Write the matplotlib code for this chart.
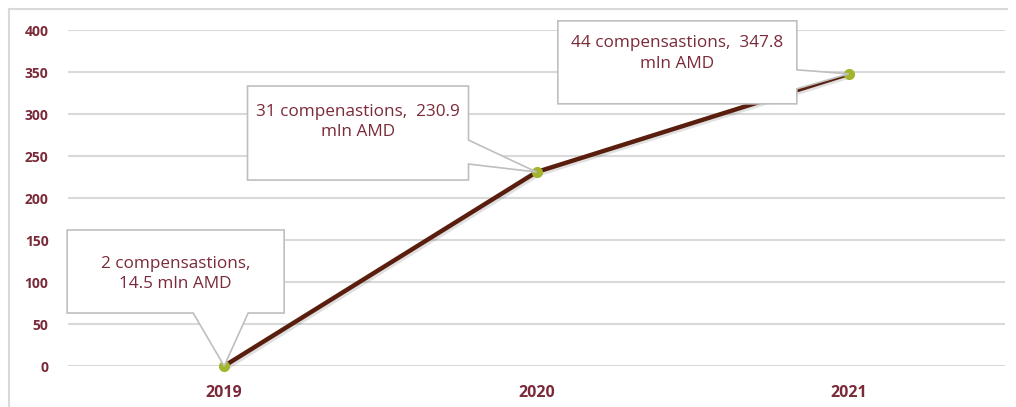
import numpy as np
import matplotlib.pyplot as plt
from matplotlib.patches import Polygon
from matplotlib.transforms import IdentityTransform
import matplotlib.patheffects as pe

plt.rcParams['font.family'] = ['Open Sans', 'DejaVu Sans']

# data
years = ['2019', '2020', '2021']
values = [0, 230.9, 347.8]
labels = ['2 compensastions,\n14.5 mln AMD',
          '31 compenastions,  230.9\nmln AMD',
          '44 compensastions,  347.8\nmln AMD']
yticks = [0, 50, 100, 150, 200, 250, 300, 350, 400]

text_col = '#7A2A38'
line_col = '#5A1E0E'
marker_col = '#A3B52C'
grid_col = '#D9D9D9'

W, H = 1016, 407
fig = plt.figure(figsize=(W / 100, H / 100), dpi=100)
ax = fig.add_axes([68 / W, 1 - 366 / H, (1005 - 68) / W, (366 - 30) / H])

x = np.arange(len(years))
ax.plot(x, values, color=line_col, lw=3.2, zorder=3, clip_on=False,
        path_effects=[pe.SimpleLineShadow(offset=(1.5, -1.5), alpha=0.12), pe.Normal()])
ax.plot(x, values, 'o', color=marker_col, ms=7, zorder=4, clip_on=False)

ax.set_xlim(-0.5, len(years) - 0.5)
ax.set_ylim(0, 400)
ax.set_yticks(yticks)
ax.set_xticks(x)
ax.set_xticklabels(years)
ax.grid(axis='y', color=grid_col, lw=1.5)
ax.set_axisbelow(True)
for s in ax.spines.values():
    s.set_visible(False)
ax.tick_params(axis='both', length=0, colors=text_col)
ax.tick_params(axis='y', pad=14, labelsize=10)
ax.tick_params(axis='x', pad=14, labelsize=11.5)
for t in ax.get_xticklabels() + ax.get_yticklabels():
    t.set_fontweight('bold')

# callout geometry in pixels relative to the point (y measured downward)
# box: (left, right, top, bottom); pointer: two base points on the box edge
boxes = [(-157, 60, -136, -53), (-289, -68, -86, 8), (-291, -52, -53, 30)]
pointers = [[(-31, -53), (24, -53)], [(-68, -32), (-68, -8)], [(-52, -4), (-52, 15)]]
text_dy = [-92, -50, -20]

fig.canvas.draw()
for i in range(len(years)):
    px, py = ax.transData.transform((x[i], values[i]))
    l, r, t, b = boxes[i]
    p1, p2 = pointers[i]
    if i == 0:
        # pointer on the bottom edge
        pts = [(l, t), (r, t), (r, b), (p2[0], b), (0, 0), (p1[0], b), (l, b)]
    else:
        # pointer on the right edge
        pts = [(l, t), (r, t), (r, p1[1]), (0, 0), (r, p2[1]), (r, b), (l, b)]
    verts = [(px + dx, py - dy) for dx, dy in pts]
    poly = Polygon(verts, closed=True, transform=IdentityTransform(),
                   facecolor='white', edgecolor='#BFBFBF', lw=1.2, zorder=5)
    fig.add_artist(poly)
    fig.text((px + (l + r) / 2) / W, (py - text_dy[i]) / H, labels[i],
             ha='center', va='center', color=text_col, fontsize=12.3,
             linespacing=1.4, zorder=6)

# outer chart border
fig.add_artist(plt.Line2D([9 / W, 9 / W], [0, 1 - 9 / H], color='#D9D9D9', lw=1.5))
fig.add_artist(plt.Line2D([9 / W, 1007 / W], [1 - 9 / H, 1 - 9 / H], color='#D9D9D9', lw=1.5))

fig.savefig('out.png', dpi=100)
